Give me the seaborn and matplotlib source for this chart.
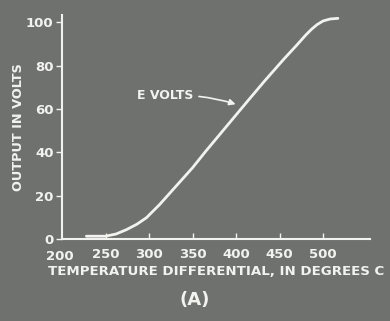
import numpy as np
import pandas as pd
import seaborn as sns
from matplotlib import pyplot as plt

# values
temp_c = [228, 250, 262, 274, 286, 297, 312, 331, 350, 365, 390, 414, 433, 455, 470, 480, 487, 493, 500, 508, 517]
e_volts = [1.5, 1.5, 2.5, 4.5, 7, 10, 16, 24.5, 33, 40.5, 52.5, 64, 73, 83, 89.5, 94, 96.8, 98.8, 100.5, 101.4, 101.7]
x_ticks = [200, 250, 300, 350, 400, 450, 500]
y_ticks = [0, 20, 40, 60, 80, 100]

bg = "#6f716e"
ink = "#f2f2ee"

sns.set_style("ticks", {"axes.facecolor": bg, "figure.facecolor": bg,
                        "axes.edgecolor": ink, "xtick.color": ink, "ytick.color": ink,
                        "text.color": ink, "axes.labelcolor": ink})
plt.rcParams["font.family"] = ["DejaVu Sans"]
plt.rcParams["font.weight"] = "bold"
plt.rcParams["axes.labelweight"] = "bold"

df = pd.DataFrame({"temp": temp_c, "volts": e_volts})

fig = plt.figure(figsize=(3.9, 3.21), dpi=100)
ax = fig.add_axes([0.159, 0.254, 0.79, 0.699])
sns.lineplot(data=df, x="temp", y="volts", ax=ax, color=ink, linewidth=2)

ax.set_xlim(200, 554)
ax.set_ylim(0, 103.2)
sns.despine(ax=ax)
ax.spines["left"].set_linewidth(1.5)
ax.spines["bottom"].set_linewidth(1.5)

ax.set_xticks(x_ticks[1:])
ax.set_xticklabels([str(v) for v in x_ticks[1:]], fontsize=9.5)
ax.tick_params(axis="x", direction="in", length=4, width=1, pad=6)
ax.set_yticks(y_ticks)
ax.set_yticklabels([str(v) for v in y_ticks], fontsize=9.5)
ax.tick_params(axis="y", direction="out", length=4, width=1, pad=2)
# the "200" sits below the corner, the "0" to its left
ax.text(197, -5, "200", fontsize=9.5, ha="center", va="top", color=ink)

ax.set_xlabel("TEMPERATURE DIFFERENTIAL, IN DEGREES C", fontsize=9.6, labelpad=3)
ax.set_ylabel("OUTPUT IN VOLTS", fontsize=9.3, labelpad=1)

ax.annotate("E VOLTS", xy=(401, 62), xytext=(318, 66), fontsize=9, ha="center", va="center",
            color=ink, arrowprops=dict(arrowstyle="-|>", color=ink, lw=1.2,
                                       connectionstyle="arc3,rad=-0.1", shrinkA=2, shrinkB=1))

fig.text(0.5, 0.065, "(A)", fontsize=13, ha="center", va="center", color=ink, weight="bold")

fig.savefig("out.png", dpi=100, facecolor=bg)
